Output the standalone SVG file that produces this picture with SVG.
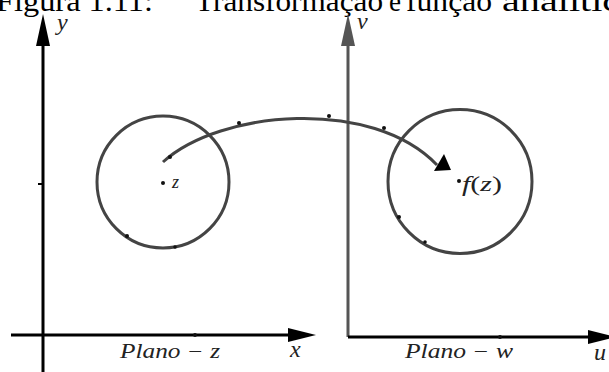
<svg xmlns="http://www.w3.org/2000/svg" width="609" height="372" viewBox="0 0 609 372">
  <style>
    .title { font-family: "Liberation Serif", "DejaVu Serif", serif; font-size: 30px; fill: #000; }
    .math { font-family: "Liberation Serif", "DejaVu Serif", serif; font-style: italic; fill: #222; }
    .axis { stroke: #000; stroke-width: 3; fill: none; }
    .axisg { stroke: #555; stroke-width: 3; fill: none; }
    .circ { stroke: #444; stroke-width: 3; fill: none; }
    .dot { fill: #111; }
  </style>
  <rect width="609" height="372" fill="#fff"/>
  <g id="title">
    <text class="title" x="-4" y="11" textLength="157" lengthAdjust="spacingAndGlyphs">Figura 1.11:</text>
    <text class="title" x="195" y="11" textLength="188" lengthAdjust="spacingAndGlyphs">Transformação</text>
    <text class="title" x="389" y="11" textLength="12" lengthAdjust="spacingAndGlyphs">e</text>
    <text class="title" x="406" y="11" textLength="86" lengthAdjust="spacingAndGlyphs">função</text>
    <text class="title" x="502" y="11" textLength="136" lengthAdjust="spacingAndGlyphs">analítica</text>
  </g>
  <g id="plane-z">
    <line class="axis" x1="43" y1="372" x2="43" y2="44"/>
    <polygon points="43,14 36,46 50,46" fill="#000"/>
    <line class="axis" x1="11" y1="335" x2="292" y2="335"/>
    <polygon points="316,335 288,328 288,342" fill="#000"/>
    <line x1="38" y1="184" x2="43" y2="184" stroke="#000" stroke-width="2"/>
    <circle class="dot" cx="195" cy="335" r="2"/>
    <text class="math" x="57" y="30" font-size="24">y</text>
    <text class="math" x="290" y="357" font-size="24">x</text>
    <text class="math" x="120" y="358" font-size="20" textLength="100" lengthAdjust="spacingAndGlyphs">Plano − z</text>
  </g>
  <g id="plane-w">
    <line class="axisg" x1="348" y1="337" x2="348" y2="44"/>
    <polygon points="348,14 341,46 355,46" fill="#555"/>
    <line class="axis" x1="348" y1="337" x2="592" y2="337"/>
    <polygon points="616,337 588,330 588,344" fill="#000"/>
    <circle class="dot" cx="500" cy="337" r="2"/>
    <text class="math" x="357" y="29" font-size="24" fill="#555">v</text>
    <text class="math" x="594" y="360" font-size="24">u</text>
    <text class="math" x="405" y="358" font-size="20" textLength="108" lengthAdjust="spacingAndGlyphs">Plano − w</text>
  </g>
  <g id="circle-z">
    <circle class="circ" cx="163" cy="182" r="66"/>
    <circle class="dot" cx="163" cy="183" r="2"/>
    <circle class="dot" cx="127" cy="236" r="2"/>
    <circle class="dot" cx="175" cy="247" r="1.8"/>
    <text class="math" x="172" y="188" font-size="18">z</text>
  </g>
  <g id="circle-w">
    <circle class="circ" cx="460" cy="181.5" r="72"/>
    <circle class="dot" cx="459" cy="181" r="2"/>
    <circle class="dot" cx="399" cy="217" r="2"/>
    <circle class="dot" cx="425" cy="242" r="1.8"/>
    <text x="462" y="191" font-size="21" textLength="40" lengthAdjust="spacingAndGlyphs" font-family="Liberation Serif, DejaVu Serif, serif" fill="#222"><tspan font-style="italic">f</tspan>(<tspan font-style="italic">z</tspan>)</text>
  </g>
  <g id="connectors">
    <path d="M163,162 C220,110 372,97 437,165" stroke="#444" stroke-width="3" fill="none"/>
    <polygon points="444,154 434,171 451,170" fill="#000"/>
    <circle class="dot" cx="170" cy="157" r="2"/>
    <circle class="dot" cx="239" cy="123" r="2"/>
    <circle class="dot" cx="329" cy="116" r="2"/>
    <circle class="dot" cx="384" cy="128" r="2"/>
  </g>
</svg>
